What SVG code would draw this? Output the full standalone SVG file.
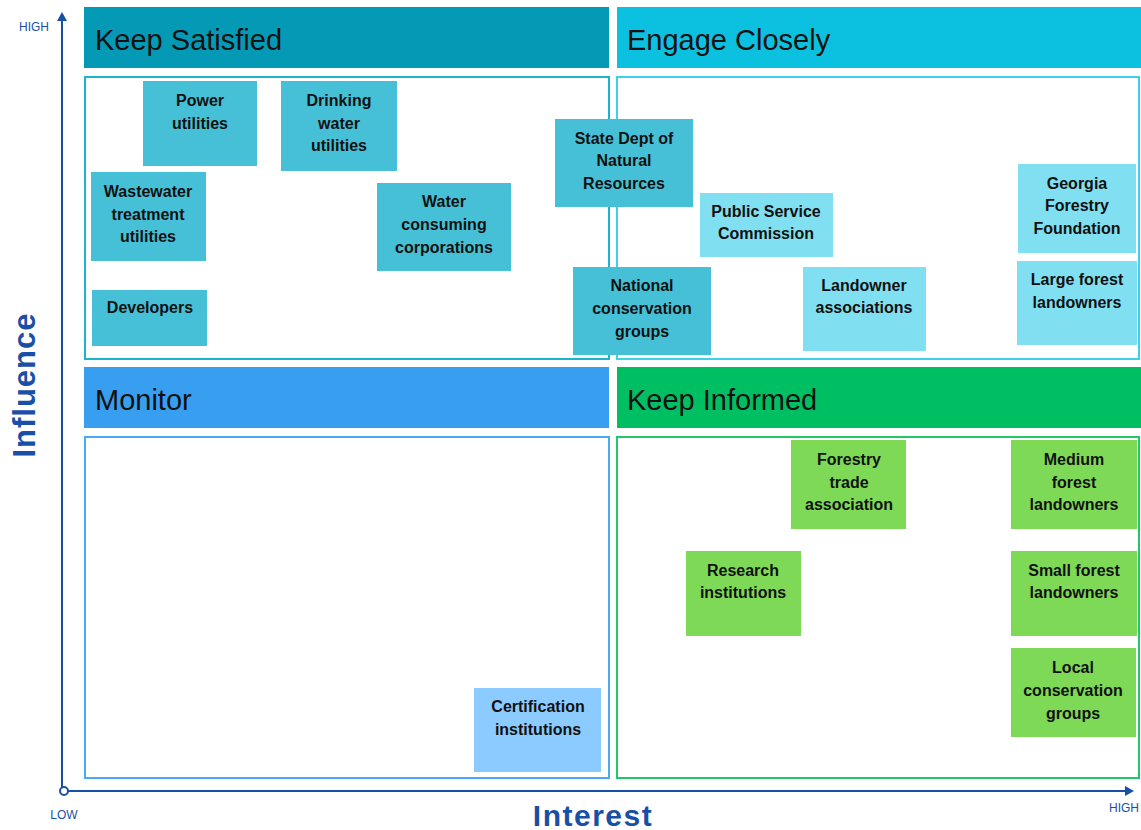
<svg xmlns="http://www.w3.org/2000/svg" width="1141" height="830" viewBox="0 0 1141 830">
<style>
.hdr{font-family:"Liberation Sans",Arial,sans-serif;font-size:29px;fill:#111;}
.nt{font-family:"Liberation Sans",Arial,sans-serif;font-size:16px;font-weight:bold;fill:#111;text-anchor:middle;}
.ax{font-family:"Liberation Sans",Arial,sans-serif;fill:#1a4fa8;}
.n1{fill:#45c0d6;}
.n2{fill:#80e0f1;}
.n3{fill:#7ed957;}
.n4{fill:#8ccbff;}
.pan{fill:#fff;stroke-width:2;}
</style>
<defs>
<marker id="arr" markerWidth="10" markerHeight="10" refX="7" refY="5" orient="auto" markerUnits="userSpaceOnUse">
<path d="M0,0 L9,5 L0,10 Z" fill="#1a4fa8"/>
</marker>
</defs>
<rect width="1141" height="830" fill="#fff"/>

<g id="quadrants">
<rect x="84" y="7" width="525" height="61" fill="#0499b4"/>
<text class="hdr" x="95" y="50">Keep Satisfied</text>
<rect x="617" y="7" width="524" height="61" fill="#0cc0df"/>
<text class="hdr" x="627" y="50">Engage Closely</text>
<rect x="84" y="367" width="525" height="61" fill="#389ff0"/>
<text class="hdr" x="95" y="410">Monitor</text>
<rect x="617" y="367" width="524" height="61" fill="#00bf63"/>
<text class="hdr" x="627" y="410">Keep Informed</text>
<rect class="pan" x="85" y="77" width="524" height="282" stroke="#1ab5cc"/>
<rect class="pan" x="617" y="77" width="522" height="282" stroke="#3dd0ea"/>
<rect class="pan" x="85" y="437" width="524" height="341" stroke="#4aaaf5"/>
<rect class="pan" x="617" y="437" width="522" height="341" stroke="#1fc86a"/>
</g>

<g id="connectors">
<line x1="62" y1="791" x2="62" y2="14" stroke="#1a4fa8" stroke-width="2" marker-end="url(#arr)"/>
<line x1="64" y1="791" x2="1132" y2="791" stroke="#1a4fa8" stroke-width="2" marker-end="url(#arr)"/>
<circle cx="64" cy="791" r="4" fill="#fff" stroke="#1a4fa8" stroke-width="2"/>
</g>

<g id="axis-labels">
<text class="ax" x="34" y="31" font-size="12" text-anchor="middle">HIGH</text>
<text class="ax" x="64" y="819" font-size="12" text-anchor="middle">LOW</text>
<text class="ax" x="1124" y="812" font-size="12" text-anchor="middle">HIGH</text>
<text class="ax" x="593" y="826" font-size="30" font-weight="bold" text-anchor="middle" letter-spacing="1.5">Interest</text>
<text class="ax" transform="translate(35,385) rotate(-90)" font-size="31" font-weight="bold" text-anchor="middle" letter-spacing="1">Influence</text>
</g>

<g id="power-utilities"><rect class="n1" x="143" y="81" width="114" height="85"/><text class="nt" x="200" y="106">Power</text><text class="nt" x="200" y="129">utilities</text></g>
<g id="drinking-water"><rect class="n1" x="281" y="81" width="116" height="90"/><text class="nt" x="339" y="106">Drinking</text><text class="nt" x="339" y="129">water</text><text class="nt" x="339" y="151">utilities</text></g>
<g id="wastewater"><rect class="n1" x="91" y="172" width="115" height="89"/><text class="nt" x="148" y="197">Wastewater</text><text class="nt" x="148" y="220">treatment</text><text class="nt" x="148" y="242">utilities</text></g>
<g id="water-consuming"><rect class="n1" x="377" y="183" width="134" height="88"/><text class="nt" x="444" y="207">Water</text><text class="nt" x="444" y="230">consuming</text><text class="nt" x="444" y="253">corporations</text></g>
<g id="developers"><rect class="n1" x="92" y="290" width="115" height="56"/><text class="nt" x="150" y="313">Developers</text></g>
<g id="state-dnr"><rect class="n1" x="555" y="119" width="138" height="88"/><text class="nt" x="624" y="144">State Dept of</text><text class="nt" x="624" y="166">Natural</text><text class="nt" x="624" y="189">Resources</text></g>
<g id="national-conservation"><rect class="n1" x="573" y="267" width="138" height="88"/><text class="nt" x="642" y="291">National</text><text class="nt" x="642" y="314">conservation</text><text class="nt" x="642" y="337">groups</text></g>

<g id="public-service"><rect class="n2" x="700" y="193" width="133" height="64"/><text class="nt" x="766" y="217">Public Service</text><text class="nt" x="766" y="239">Commission</text></g>
<g id="landowner-assoc"><rect class="n2" x="803" y="267" width="123" height="84"/><text class="nt" x="864" y="291">Landowner</text><text class="nt" x="864" y="313">associations</text></g>
<g id="georgia-forestry"><rect class="n2" x="1018" y="164" width="118" height="89"/><text class="nt" x="1077" y="189">Georgia</text><text class="nt" x="1077" y="211">Forestry</text><text class="nt" x="1077" y="234">Foundation</text></g>
<g id="large-forest"><rect class="n2" x="1017" y="261" width="120" height="84"/><text class="nt" x="1077" y="285">Large forest</text><text class="nt" x="1077" y="308">landowners</text></g>

<g id="forestry-trade"><rect class="n3" x="791" y="440" width="115" height="89"/><text class="nt" x="849" y="465">Forestry</text><text class="nt" x="849" y="488">trade</text><text class="nt" x="849" y="510">association</text></g>
<g id="medium-forest"><rect class="n3" x="1011" y="440" width="126" height="89"/><text class="nt" x="1074" y="465">Medium</text><text class="nt" x="1074" y="488">forest</text><text class="nt" x="1074" y="510">landowners</text></g>
<g id="research"><rect class="n3" x="686" y="551" width="115" height="85"/><text class="nt" x="743" y="576">Research</text><text class="nt" x="743" y="598">institutions</text></g>
<g id="small-forest"><rect class="n3" x="1011" y="551" width="126" height="85"/><text class="nt" x="1074" y="576">Small forest</text><text class="nt" x="1074" y="598">landowners</text></g>
<g id="local-conservation"><rect class="n3" x="1011" y="648" width="125" height="89"/><text class="nt" x="1073" y="673">Local</text><text class="nt" x="1073" y="696">conservation</text><text class="nt" x="1073" y="719">groups</text></g>

<g id="certification"><rect class="n4" x="474" y="688" width="127" height="84"/><text class="nt" x="538" y="712">Certification</text><text class="nt" x="538" y="735">institutions</text></g>
</svg>
